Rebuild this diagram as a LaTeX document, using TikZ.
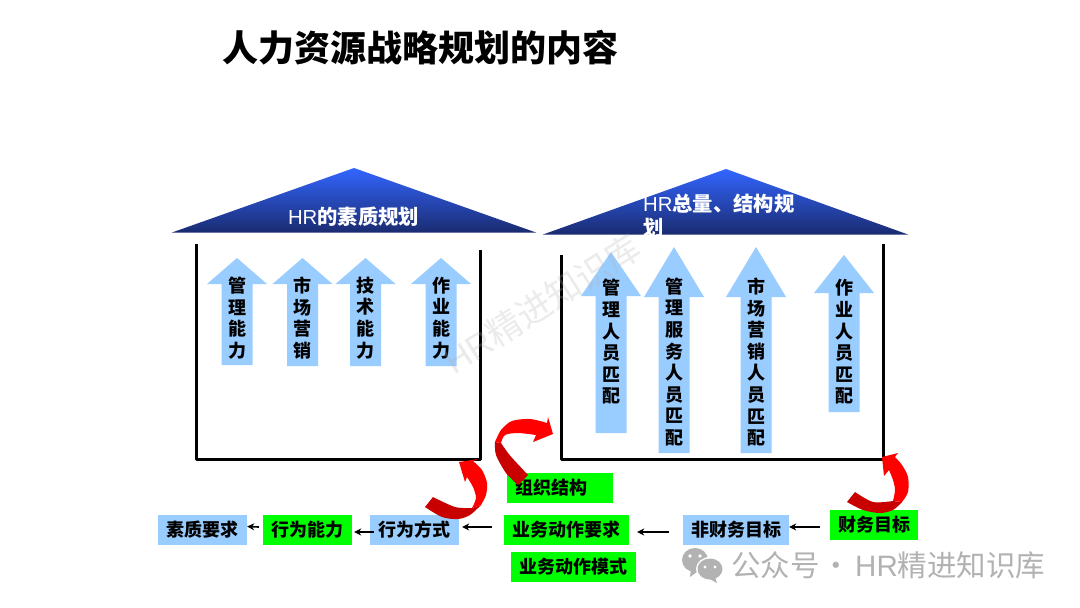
\documentclass[tikz,border=0pt]{standalone}
\usepackage{fontspec}
\setmainfont{Noto Sans CJK SC}
\newfontfamily\latinf{Liberation Sans}
\usetikzlibrary{arrows.meta,calc}
\definecolor{boxblue}{HTML}{99CCFF}
\definecolor{boxgreen}{HTML}{00FF00}
\definecolor{roofhi}{HTML}{3366FF}
\definecolor{rooflo}{HTML}{1A2B70}
\definecolor{ribbon}{HTML}{FF0000}
\definecolor{ribbondark}{HTML}{C80000}
\definecolor{markgray}{HTML}{B2B2B2}
\tikzset{
  x=1pt,y=-1pt,
  wall/.style={draw=black,line width=3pt,line join=round},
  roof/.style={top color=roofhi,bottom color=rooflo,draw=none},
  rooflabel/.style={text=white,font=\fontsize{20.3}{24}\selectfont\bfseries,inner sep=0pt},
  upshape/.style={fill=boxblue,draw=none},
  uplabel/.style={font=\fontsize{18}{21.6}\selectfont\bfseries,align=center,inner sep=0pt,text=black},
  tag/.style={font=\fontsize{18}{20}\selectfont\bfseries,minimum height=30pt,inner sep=0pt,text=black},
  bluetag/.style={tag,fill=boxblue},
  greentag/.style={tag,fill=boxgreen},
  flow/.style={draw=black,line width=1.6pt,-{Stealth[length=7pt,width=7pt]}},
  wmark/.style={text=markgray,inner sep=0pt},
}
% #1 name, #2 centre x, #3 tip y, #4 head base y, #5 bottom y, #6 text y centre, #7 text
\newcommand{\hrup}[7]{%
  \path[upshape] (#2,#3) -- (#2+30,#4) -- (#2+15.5,#4) -- (#2+15.5,#5) -- (#2-15.5,#5) -- (#2-15.5,#4) -- (#2-30,#4) -- cycle;
  \node[uplabel] (#1) at (#2,#6) {#7};
}
\begin{document}
\begin{tikzpicture}
\useasboundingbox (0,0) rectangle (1080,608);
\fill[white] (0,0) rectangle (1080,608);

\node[font=\fontsize{36}{40}\selectfont\bfseries,inner sep=0pt] (title) at (420.5,48) {人力资源战略规划的内容};

% roofs
\path[roof] (354,168) -- (536,232.5) -- (172,232.5) -- cycle;
\path[roof] (726,169) -- (908,234.5) -- (543,234.5) -- cycle;
\node[rooflabel] (rooftextL) at (353.5,217) {{\latinf\mdseries HR}的素质规划};
\node[rooflabel,align=left,anchor=north west] (rooftextR) at (643,194) {{\latinf\mdseries HR}总量、结构规\\划};

% walls
\draw[wall] (196,244) -- (196,459) -- (480,459) -- (480,250);
\draw[wall] (561,255) -- (561,459) -- (883,459) -- (883,244);

% left up arrows
\hrup{la}{237}{258}{284}{365}{318}{管\\理\\能\\力}
\hrup{lb}{302.5}{258}{284}{366}{318}{市\\场\\营\\销}
\hrup{lc}{365.5}{258}{284}{366}{318}{技\\术\\能\\力}
\hrup{ld}{441}{258}{284}{366}{318}{作\\业\\能\\力}
% right up arrows
\hrup{ra}{611}{252}{296}{433}{342}{管\\理\\人\\员\\匹\\配}
\hrup{rb}{674}{247}{297}{453}{362}{管\\理\\服\\务\\人\\员\\匹\\配}
\hrup{rc}{756}{247}{297}{453}{362}{市\\场\\营\\销\\人\\员\\匹\\配}
\hrup{rd}{844}{255}{293}{412}{342}{作\\业\\人\\员\\匹\\配}

% tags
\node[bluetag,minimum width=89pt] (quality) at (202.5,529.5) {素质要求};
\node[greentag,minimum width=89pt] (ability) at (307.5,530) {行为能力};
\node[bluetag,minimum width=89pt] (method) at (414.5,530) {行为方式};
\node[greentag,minimum width=106pt] (org) at (560,488) {组织结构\hspace*{18pt}};
\node[greentag,minimum width=125pt] (req) at (566.5,530) {业务动作要求};
\node[greentag,minimum width=125pt] (mode) at (573.5,567) {业务动作模式};
\node[bluetag,minimum width=106pt] (nonfin) at (736,530) {非财务目标};
\node[greentag,minimum width=88pt] (fin) at (874,525) {财务目标};

% connectors
\draw[flow] ([shift={(-4,-3)}]ability.west) -- ([shift={(0,-3)}]quality.east);
\draw[flow] ([shift={(4,2)}]method.west) -- ([shift={(2,2)}]ability.east);
\draw[flow] ([shift={(-12,-3)}]req.west) -- ([shift={(3,-3)}]method.east);
\draw[flow] ([shift={(-14,2)}]nonfin.west) -- ([shift={(8,2)}]req.east);
\draw[flow] ([shift={(-10,2)}]fin.west) -- ([shift={(0,-3)}]nonfin.east);

% red ribbons
% ribbon over method
\fill[ribbondark] plot[smooth] coordinates {(433,497) (455,507) (472,508)} -- plot[smooth] coordinates {(481,505) (470,515) (458,519) (442,517) (425,507)} -- cycle;
\fill[ribbon] plot[smooth] coordinates {(481,505) (486,495) (487,483) (482,470) (473,461)} -- (478,459) -- (459,462) -- (465,482) -- (467,477) -- plot[smooth] coordinates {(467,477) (473,487) (476,498) (472,508)} -- cycle;
% ribbon to right frame
\fill[ribbondark] plot[smooth] coordinates {(495,442) (496,455) (506,473) (518,485)} -- (528,475) -- plot[smooth] coordinates {(528,475) (514,460) (508,453) (501,443)} -- cycle;
\fill[ribbon] plot[smooth] coordinates {(495,442) (501,430) (512,421) (530,419) (547,423)} -- (548,417) -- (553,434) -- (533,442) -- (536,435) -- plot[smooth] coordinates {(536,435) (518,433) (505,435) (501,443)} -- cycle;
% ribbon over fin
\fill[ribbondark] plot[smooth] coordinates {(855,492) (873,502) (893,501)} -- plot[smooth] coordinates {(902,502) (893,510) (880,513) (863,510) (847,502)} -- cycle;
\fill[ribbon] plot[smooth] coordinates {(902,502) (908,492) (908,477) (902,465) (895,457)} -- (898,453) -- (882,457) -- (884,476) -- (889,470) -- plot[smooth] coordinates {(889,470) (893,480) (895,490) (893,501)} -- cycle;

% watermarks
\node[wmark,opacity=.25,font=\fontsize{35}{38}\selectfont,rotate=32.5] (wm) at (542,304) {{\latinf HR}精进知识库};

\fill[markgray] (697,572) -- (690,577) -- (691,569) -- cycle;
\fill[markgray] (695,560) ellipse [x radius=13,y radius=12];
\fill[white] (710,569) ellipse [x radius=14,y radius=12];
\fill[markgray] (715,577) -- (717,583) -- (708,578) -- cycle;
\fill[markgray] (710,569) ellipse [x radius=12.5,y radius=10.5];
\fill[white] (690,556) circle (1.8) (700,556) circle (1.8) (705,567) circle (1.6) (715,567) circle (1.6);
\node[wmark,anchor=west,font=\fontsize{29.5}{32}\selectfont] (account) at (731,565) {公众号\hspace{2pt}·\hspace{4pt}{\latinf HR}精进知识库};
\end{tikzpicture}
\end{document}
